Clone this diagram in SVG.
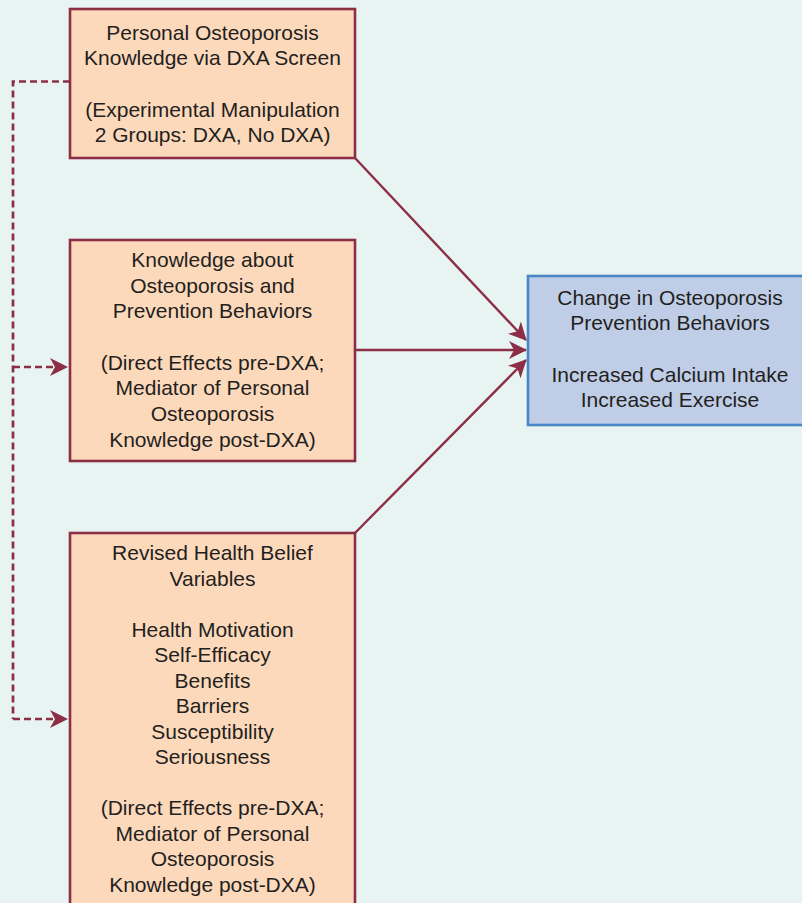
<svg xmlns="http://www.w3.org/2000/svg" width="802" height="903" viewBox="0 0 802 903">
<style>
.box{fill:#fdd9bc;stroke:#8c2f46;stroke-width:2.6}
.blue{fill:#bfcde7;stroke:#4b86c4;stroke-width:2.6}
text{font-family:"Liberation Sans",Arial,sans-serif;font-size:21px;fill:#231f20;text-anchor:middle}
.c{stroke:#8c2f46;stroke-width:2.4;fill:none}
.d{stroke:#8c2f46;stroke-width:2.7;fill:none;stroke-dasharray:7 4}
</style>
<defs>
<marker id="ah" viewBox="0 0 18 18" refX="17" refY="9" markerWidth="18" markerHeight="18" markerUnits="userSpaceOnUse" orient="auto">
<path d="M0,0 L18,9 L0,18 L5,9 Z" fill="#8c2f46"/>
</marker>
</defs>
<rect width="802" height="903" fill="#e8f4f2"/>
<g id="connectors">
<path class="d" d="M70,81.5 H13 V719"/>
<path class="d" d="M13,367 H67" marker-end="url(#ah)"/>
<path class="d" d="M13,719 H67" marker-end="url(#ah)"/>
<path class="c" d="M355,158 L526,340" marker-end="url(#ah)"/>
<path class="c" d="M355,350 L526,350" marker-end="url(#ah)"/>
<path class="c" d="M355,533 L526,360" marker-end="url(#ah)"/>
</g>
<g id="node1">
<rect class="box" x="70" y="9" width="285" height="149"/>
<text x="212.5" y="40">Personal Osteoporosis</text>
<text x="212.5" y="65">Knowledge via DXA Screen</text>
<text x="212.5" y="117">(Experimental Manipulation</text>
<text x="212.5" y="142">2 Groups: DXA, No DXA)</text>
</g>
<g id="node2">
<rect class="box" x="70" y="240" width="285" height="221"/>
<text x="212.5" y="267">Knowledge about</text>
<text x="212.5" y="293">Osteoporosis and</text>
<text x="212.5" y="318">Prevention Behaviors</text>
<text x="212.5" y="369.5">(Direct Effects pre-DXA;</text>
<text x="212.5" y="395">Mediator of Personal</text>
<text x="212.5" y="421">Osteoporosis</text>
<text x="212.5" y="446.5">Knowledge post-DXA)</text>
</g>
<g id="node3">
<rect class="box" x="70" y="533" width="285" height="380"/>
<text x="212.5" y="560">Revised Health Belief</text>
<text x="212.5" y="586">Variables</text>
<text x="212.5" y="637">Health Motivation</text>
<text x="212.5" y="662">Self-Efficacy</text>
<text x="212.5" y="688">Benefits</text>
<text x="212.5" y="713">Barriers</text>
<text x="212.5" y="739">Susceptibility</text>
<text x="212.5" y="764">Seriousness</text>
<text x="212.5" y="815">(Direct Effects pre-DXA;</text>
<text x="212.5" y="841">Mediator of Personal</text>
<text x="212.5" y="866">Osteoporosis</text>
<text x="212.5" y="892">Knowledge post-DXA)</text>
</g>
<g id="node4">
<rect class="blue" x="528" y="276" width="290" height="149"/>
<text x="670" y="305">Change in Osteoporosis</text>
<text x="670" y="330">Prevention Behaviors</text>
<text x="670" y="382">Increased Calcium Intake</text>
<text x="670" y="407">Increased Exercise</text>
</g>
</svg>
